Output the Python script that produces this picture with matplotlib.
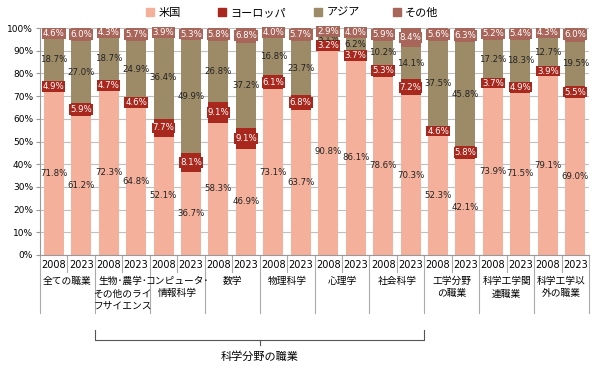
import numpy as np
import matplotlib.pyplot as plt
from matplotlib.transforms import blended_transform_factory
from matplotlib.patches import Patch

plt.rcParams['font.family'] = ['Noto Sans CJK JP', 'DejaVu Sans']

# Categories (each has a 2008 and a 2023 bar)
groups = ['全ての職業', '生物･農学･\nその他のライ\nフサイエンス', 'コンピュータ･\n情報科学', '数学',
          '物理科学', '心理学', '社会科学', '工学分野\nの職業', '科学工学関\n連職業', '科学工学以\n外の職業']
years = ['2008', '2023']
series_names = ['米国', 'ヨーロッパ', 'アジア', 'その他']

us = [71.8, 61.2, 72.3, 64.8, 52.1, 36.7, 58.3, 46.9, 73.1, 63.7,
      90.8, 86.1, 78.6, 70.3, 52.3, 42.1, 73.9, 71.5, 79.1, 69.0]
europe = [4.9, 5.9, 4.7, 4.6, 7.7, 8.1, 9.1, 9.1, 6.1, 6.8,
          3.2, 3.7, 5.3, 7.2, 4.6, 5.8, 3.7, 4.9, 3.9, 5.5]
asia = [18.7, 27.0, 18.7, 24.9, 36.4, 49.9, 26.8, 37.2, 16.8, 23.7,
        3.1, 6.2, 10.2, 14.1, 37.5, 45.8, 17.2, 18.3, 12.7, 19.5]
other = [4.6, 6.0, 4.3, 5.7, 3.9, 5.3, 5.8, 6.8, 4.0, 5.7,
         2.9, 4.0, 5.9, 8.4, 5.6, 6.3, 5.2, 5.4, 4.3, 6.0]

colors = ['#F4B09A', '#A8281E', '#9D8B67', '#A8665B']
text_colors = ['#222222', 'white', '#222222', 'white']
boxed = [False, True, False, True]

fig = plt.figure(figsize=(6, 3.72), dpi=100)
ax = fig.add_axes([40 / 600, 1 - 255 / 372, 549 / 600, 227 / 372])

x = np.arange(len(us))
bottom = np.zeros(len(us))
for vals, col, tcol, box in zip([us, europe, asia, other], colors, text_colors, boxed):
    vals = np.array(vals)
    ax.bar(x, vals, width=0.73, bottom=bottom, color=col, zorder=2)
    for xi, b, v in zip(x, bottom, vals):
        kw = {}
        if box:
            kw['bbox'] = dict(boxstyle='square,pad=0.1', fc=col, ec='none')
        ax.text(xi, b + v / 2, f'{v:.1f}%', ha='center', va='center',
                fontsize=6.2, color=tcol, zorder=3, family='DejaVu Sans', **kw)
    bottom += vals

ax.set_xlim(-0.5, len(us) - 0.5)
ax.set_ylim(0, 100)
ax.set_yticks(range(0, 101, 10))
ax.set_yticklabels([f'{v}%' for v in range(0, 101, 10)], fontsize=6.5, family='DejaVu Sans')
ax.yaxis.grid(True, color='#BFBFBF', lw=0.8, zorder=0)
ax.tick_params(axis='y', length=3, color='#999999', pad=2)
ax.set_xticks([])
for s in ['top', 'right']:
    ax.spines[s].set_visible(False)
ax.spines['left'].set_color('#999999')
ax.spines['bottom'].set_color('#999999')

# category axis
tr = blended_transform_factory(ax.transData, fig.transFigure)
def fy(py):
    return 1 - py / 372

for i in range(len(us)):
    ax.text(i, fy(265), years[i % 2], transform=tr, ha='center', va='center',
            fontsize=7, family='DejaVu Sans')
for i in range(len(us) + 1):
    edge = i - 0.5
    if i % 2 == 0:
        ax.plot([edge, edge], [fy(255), fy(313)], transform=tr, color='#AAAAAA', lw=0.8, clip_on=False)
    else:
        ax.plot([edge, edge], [fy(255), fy(272)], transform=tr, color='#AAAAAA', lw=0.8, clip_on=False)
for g, name in enumerate(groups):
    ax.text(2 * g + 0.5, fy(276), name, transform=tr, ha='center', va='top',
            fontsize=7, linespacing=1.3)

# bracket for science fields
x0, x1, xc = 1.5, 13.5, 7.5
ax.plot([x0, x0, x1, x1], [fy(330), fy(340), fy(340), fy(330)], transform=tr,
        color='#555555', lw=0.8, clip_on=False)
ax.plot([xc, xc], [fy(340), fy(345)], transform=tr, color='#555555', lw=0.8, clip_on=False)
ax.text(xc, fy(357), '科学分野の職業', transform=tr, ha='center', va='center', fontsize=8)

# legend entries placed individually to match spacing
legend_x = [146, 218, 314, 393]
for name, col, lx in zip(series_names, colors, legend_x):
    leg = fig.legend([Patch(color=col)], [name], loc='center left',
                     bbox_to_anchor=(lx / 600, 1 - 13 / 372), frameon=False, fontsize=8,
                     handlelength=0.7, handleheight=0.7, handletextpad=0.4,
                     borderpad=0, borderaxespad=0)

fig.savefig('out.png', dpi=100)
